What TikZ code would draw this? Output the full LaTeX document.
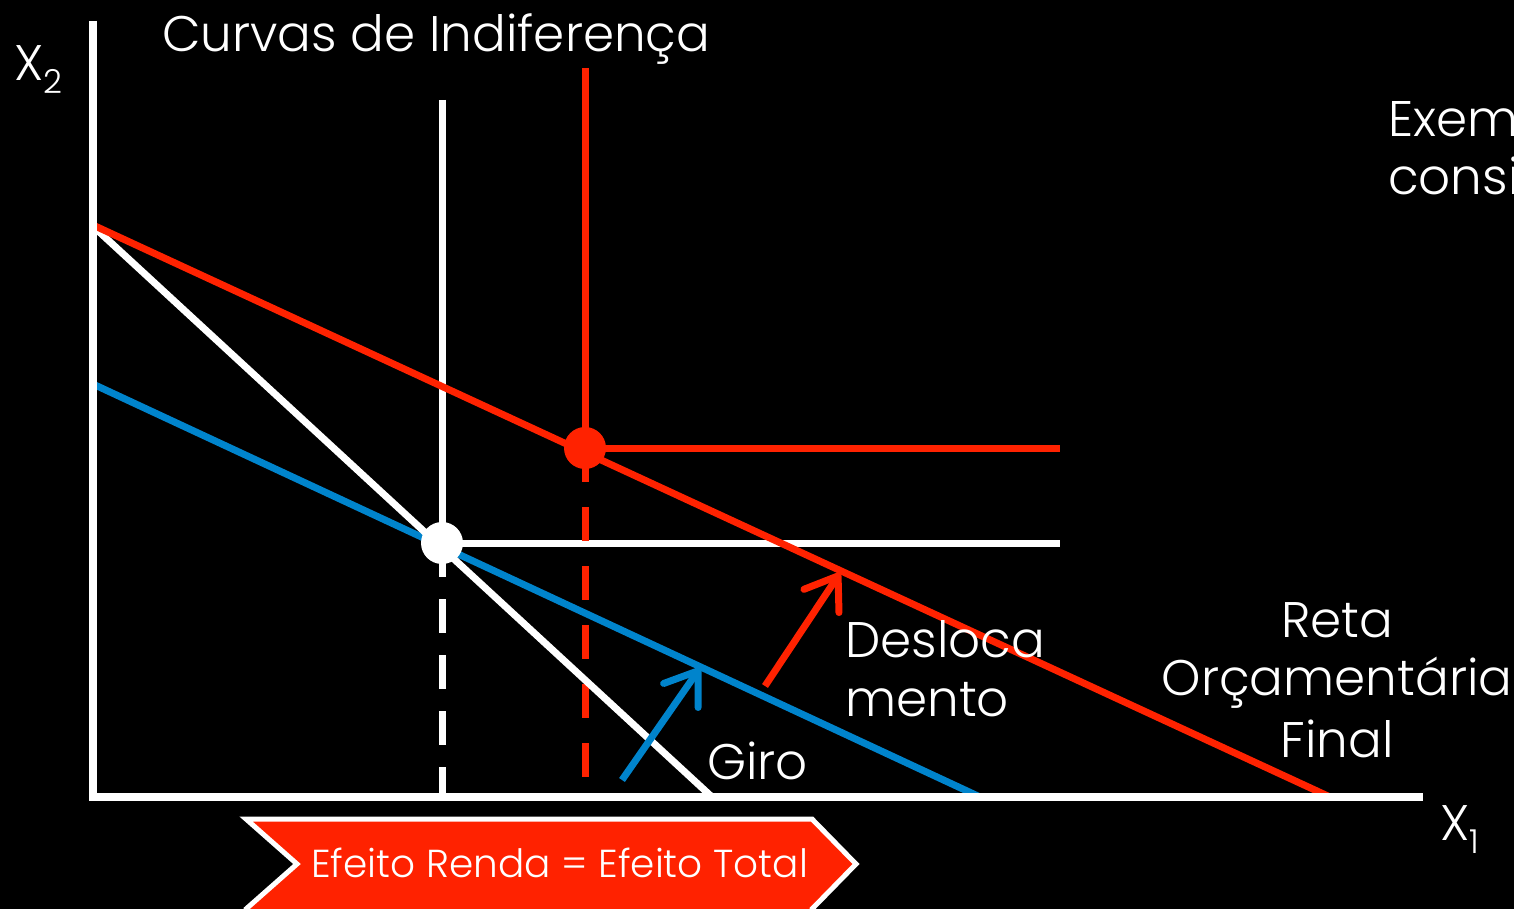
\documentclass[tikz,border=0pt]{standalone}
\usepackage{fontspec}
\setmainfont{Poppins}[UprightFont=* Light]
\usetikzlibrary{arrows.meta}
\definecolor{cred}{RGB}{255,34,0}
\definecolor{cblue}{RGB}{0,132,204}
\begin{document}
\begin{tikzpicture}[x=1pt,y=-1pt,
  lw/.style={line width=7pt},
  txt/.style={text=white,inner sep=0pt,font=\fontsize{50}{50}\selectfont},
  barb/.style={-{Straight Barb[length=30pt,width=42pt,line cap=round,line join=round]}, line width=7pt},
  dashedred/.style={cred,lw,dash pattern=on 34pt off 25pt},
  dashedwhite/.style={white,lw,dash pattern=on 34pt off 22pt},
  dot/.style={circle,inner sep=0pt,minimum size=42pt}]
\fill[black] (0,0) rectangle (1514,909);
\useasboundingbox (0,0) rectangle (1514,909);
% axes
\coordinate (O) at (93,797);
\coordinate (Ytop) at (93,21);
\coordinate (Xend) at (1423,797);
% budget lines endpoints
\coordinate (Ra) at (95,226);
\coordinate (Rb) at (1330,797);
\coordinate (Wa) at (95,228);
\coordinate (Wb) at (712,797);
\coordinate (Ba) at (95,385);
\coordinate (Bb) at (980,797);
% indifference curves
\coordinate (Wtop) at (442,100);
\coordinate (Wright) at (1060,543);
\coordinate (Wbot) at (442,797);
\coordinate (Rtop) at (585,68);
\coordinate (Rright) at (1060,448);
\coordinate (Rbot) at (585,780);
% arrows
\coordinate (bs) at (622,780);
\coordinate (be) at (700,668);
\coordinate (rs) at (765,686);
\coordinate (re) at (840,573);

\draw[white,lw] (Wtop) -- (442,543) -- (Wright);
\draw[dashedwhite] (442,543) -- (Wbot);
\draw[cred,lw] (Rtop) -- (585,448) -- (Rright);
\draw[dashedred] (585,448) -- (Rbot);

\draw[cblue,lw] (Ba) -- (Bb);
\draw[white,lw] (Wa) -- (Wb);
\draw[cred,lw] (Ra) -- (Rb);

\draw[white,line width=8pt] (Ytop) -- (O) -- (Xend);

\node[dot,fill=cred] (E2) at (585,448) {};
\node[dot,fill=white] (E1) at (442,543) {};

\draw[barb,cblue] (bs) -- (be);
\draw[barb,cred] (rs) -- (re);

% labels
\node[txt,anchor=base west] (title) at (162,52) {Curvas de Indiferença};
\node[txt,anchor=base west] (x2) at (14,81) {X\raisebox{-13pt}{\fontsize{33}{33}\selectfont 2}};
\node[txt,anchor=base west] (x1) at (1440,840) {X\raisebox{-13pt}{\fontsize{33}{33}\selectfont 1}};
\node[txt,anchor=base west] (exem) at (1388,137) {Exem};
\node[txt,anchor=base west] (consi) at (1388,195) {consi};
\node[txt,anchor=base west] (desl1) at (845,657) {Desloca};
\node[txt,anchor=base west] (desl2) at (845,716) {mento};
\node[txt,anchor=base west] (giro) at (707,779) {Giro};
\node[txt,anchor=base] (reta1) at (1337,637) {Reta};
\node[txt,anchor=base] (reta2) at (1337,695) {Orçamentária};
\node[txt,anchor=base] (reta3) at (1337,757) {Final};

% banner
\draw[fill=cred,draw=white,line width=5pt] (246,819) -- (812,819) -- (856,864) -- (812,909) -- (812,915) -- (246,915) -- (246,909) -- (297,864) -- cycle;
\node[txt,anchor=base west,font=\fontsize{39}{39}\selectfont] (banner) at (311,877) {Efeito Renda = Efeito Total};
\end{tikzpicture}
\end{document}
